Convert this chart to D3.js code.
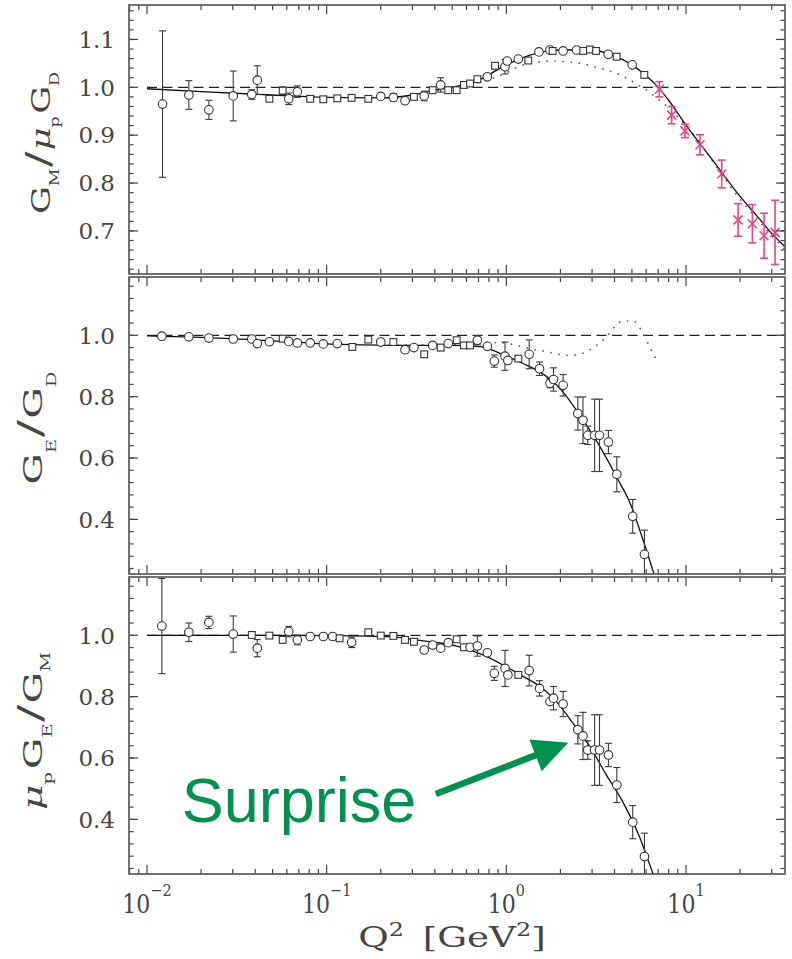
<!DOCTYPE html>
<html><head><meta charset="utf-8">
<script src="https://cdn.jsdelivr.net/npm/d3@7"></script>
<style>body{margin:0;background:#fff}svg{display:block}</style>
</head><body>
<svg id="c" width="792" height="959"></svg>
<script>
// ---------------- DATA ----------------
// Panel 1: G_M / (mu_p G_D)
const gmQ   = [0.0122,0.0171,0.0221,0.0302,0.0383,0.0411,0.048,0.0569,0.0615,0.0687,0.081,0.0958,0.1146,0.1377,0.1705,0.2,0.235,0.273,0.306,0.349,0.389,0.431,0.475,0.529,0.581,0.628,0.69,0.784,0.865,0.983,1.012,1.166,1.325,1.519,1.75,1.81,2.07,2.46,2.68,2.92,3.16,3.69,4.11,5.02,5.86];
const gmVal = [0.965,0.984,0.953,0.982,0.985,1.015,0.976,0.993,0.976,0.991,0.976,0.975,0.977,0.978,0.976,0.981,0.979,0.972,0.980,0.982,0.994,1.005,0.994,0.994,1.005,1.008,1.017,1.022,1.045,1.043,1.055,1.059,1.056,1.074,1.078,1.076,1.076,1.078,1.076,1.079,1.076,1.069,1.064,1.047,1.026];
const gmErr = [0.153,0.03,0.02,0.052,0.01,0.03,0,0.008,0.012,0.012,0,0,0,0,0,0,0.008,0,0,0.01,0,0.015,0,0,0,0,0,0,0,0.015,0,0,0,0,0,0,0,0,0,0,0,0,0,0,0];
const gmMark = ("oooooo"+"ss"+"oo"+"sssss"+"ooo"+"s"+"o"+"s"+"o"+"sssss"+"o"+"s"+"ooo"+"s"+"oo"+"s"+"oo"+"sss"+"o"+"s"+"o"+"s").split("");
const gmPinkQ   = [7.10,8.32,9.87,11.96,15.8,19.5,23.4,27.2,31.3];
const gmPinkVal = [0.996,0.942,0.909,0.880,0.819,0.723,0.715,0.690,0.697];
const gmPinkErr = [0.016,0.018,0.014,0.021,0.029,0.034,0.040,0.047,0.067];
const gmFitQ   = [0.01,0.02,0.05,0.1,0.2,0.3,0.4,0.5,0.7,1.0,1.5,2.0,3.0,4.0,5.0,6.0,7.0,8.0,10,15,20,25,30,35.56];
const gmFitVal = [0.997,0.991,0.984,0.979,0.978,0.984,0.994,1.0,1.015,1.047,1.072,1.078,1.078,1.065,1.047,1.024,1.0,0.973,0.921,0.834,0.772,0.730,0.695,0.667];
const gmDotQ   = [0.25,0.3,0.5,0.7,1.0,1.2,1.5,1.8,2.2,2.6,3.1,3.6,4.3,4.9,5.5,6.2,6.9,7.7,9,12,16,20,25,30,35.56];
const gmDotVal = [0.980,0.984,0.998,1.010,1.030,1.045,1.053,1.055,1.053,1.050,1.043,1.036,1.026,1.015,1.003,0.991,0.977,0.963,0.938,0.883,0.815,0.766,0.724,0.690,0.661];

// Panel 2: G_E / G_D
const geQ   = [0.0121,0.0171,0.0221,0.0302,0.0383,0.0411,0.048,0.0569,0.0615,0.0687,0.081,0.0958,0.1146,0.139,0.1705,0.2,0.235,0.273,0.306,0.349,0.389,0.431,0.475,0.529,0.581,0.628,0.69,0.784,0.857,0.983,1.02,1.166,1.34,1.53,1.75,1.83,2.07,2.5,2.67,2.84,3.1,3.3,3.7,4.12,5.05,5.87];
const geVal = [0.997,0.995,0.991,0.988,0.988,0.973,0.979,0.989,0.980,0.975,0.975,0.972,0.973,0.962,0.986,0.978,0.978,0.953,0.960,0.938,0.967,0.960,0.973,0.984,0.967,0.967,0.984,0.964,0.916,0.932,0.918,0.924,0.938,0.891,0.844,0.856,0.837,0.745,0.723,0.674,0.674,0.674,0.652,0.547,0.410,0.286];
const geErr = [0,0,0,0,0,0,0,0.006,0,0,0,0,0,0,0,0,0,0,0,0,0,0.01,0,0,0,0,0.015,0,0.02,0.046,0,0,0.047,0.022,0.015,0.038,0.035,0.054,0.076,0.03,0.118,0.118,0.038,0.057,0.055,0.079];
const geMark = ("ooooooo"+"s"+"ooooo"+"ss"+"o"+"s"+"oo"+"s"+"o"+"s"+"o"+"sss"+"ooooo"+"s"+"oooooooooooooo").split("");
const geFitQ   = [0.01,0.02,0.05,0.1,0.2,0.3,0.5,0.71,0.85,1.0,1.24,1.54,1.83,2.07,2.46,2.92,3.45,4.11,4.9,5.7,6.64];
const geFitVal = [0.998,0.993,0.982,0.972,0.968,0.967,0.967,0.963,0.950,0.932,0.908,0.880,0.848,0.815,0.755,0.690,0.620,0.538,0.451,0.342,0.222];
const geDotQ   = [0.25,0.5,0.7,0.92,1.07,1.24,1.44,1.65,1.88,2.15,2.5,2.84,3.25,3.6,4.0,4.45,5.2,5.7,6.4,6.88];
const geDotVal = [0.968,0.970,0.974,0.976,0.971,0.962,0.953,0.948,0.940,0.935,0.937,0.949,0.971,0.995,1.027,1.047,1.044,1.011,0.953,0.918];

// Panel 3: mu_p G_E / G_M
const rQ   = [0.0121,0.0171,0.0221,0.0302,0.0383,0.0411,0.048,0.0569,0.0615,0.0687,0.081,0.0958,0.108,0.118,0.1377,0.1705,0.2,0.235,0.273,0.306,0.349,0.389,0.431,0.475,0.529,0.581,0.628,0.69,0.784,0.857,0.983,1.02,1.166,1.34,1.53,1.75,1.83,2.07,2.5,2.67,2.84,3.1,3.3,3.7,4.12,5.05,5.87];
const rVal = [1.030,1.010,1.042,1.004,1.001,0.958,0.999,0.985,1.012,0.985,0.996,0.996,0.996,0.990,0.977,1.010,0.999,0.998,0.985,0.979,0.952,0.968,0.958,0.976,0.987,0.961,0.961,0.965,0.943,0.876,0.892,0.871,0.871,0.885,0.827,0.784,0.795,0.776,0.692,0.672,0.626,0.626,0.626,0.610,0.512,0.391,0.279];
const rErr = [0.155,0.03,0.02,0.059,0,0.028,0,0,0.017,0.016,0,0,0,0,0.017,0,0,0,0,0,0,0,0,0,0,0,0,0.033,0,0.023,0.059,0,0,0.05,0.025,0,0.038,0.041,0.046,0.077,0.03,0.115,0.115,0.038,0.057,0.054,0.076];
const rMark = ("oooo"+"s"+"o"+"ss"+"ooooo"+"s"+"o"+"sssss"+"oooo"+"ss"+"oooooo"+"s"+"oooooooooooooo").split("");
const rFitQ   = [0.01,0.05,0.1,0.23,0.345,0.53,0.74,0.96,1.23,1.54,1.9,2.35,2.92,3.6,4.44,5.5,6.55];
const rFitVal = [1.0,1.0,0.999,0.995,0.982,0.965,0.936,0.903,0.867,0.833,0.784,0.713,0.637,0.545,0.458,0.344,0.222];

// Axis ticks / labels
const xMajorTicks = [0.01,0.1,1,10];
const xTickExp = ["\u22122","\u22121","0","1"];
const yTicksTop = [0.7,0.8,0.9,1.0,1.1];
const yTicksLow = [0.4,0.6,0.8,1.0];

// annotation (in panel-3 data coordinates)
const noteText = "Surprise";
const noteTextAt = [0.0156, 0.393];
const arrowFrom = [0.405, 0.483];
const arrowTo = [2.21, 0.650];

// ---------------- CHART ----------------
const svg = d3.select("#c");
const serif = "'DejaVu Serif', serif";
const txtCol = "#454545";
const x = d3.scaleLog().domain([0.00794, 35.56]).range([129, 785]);
const L = 129, R = 785;

const panels = [
  {top:5,   bottom:274, dom:[0.610,1.172], ticks:yTicksTop, minor:0.02},
  {top:277, bottom:574, dom:[0.222,1.19],  ticks:yTicksLow, minor:0.04},
  {top:577, bottom:874, dom:[0.222,1.19],  ticks:yTicksLow, minor:0.04}
];
panels.forEach(p => p.y = d3.scaleLinear().domain(p.dom).range([p.bottom, p.top]));

const defs = svg.append("defs");
panels.forEach((p,i) => {
  defs.append("clipPath").attr("id","clip"+i).append("rect")
    .attr("x",L).attr("y",p.top).attr("width",R-L).attr("height",p.bottom-p.top);
});

const zip = (a,b) => a.map((v,i)=>[v,b[i]]);

function drawCurve(g, y, q, v, style){
  const line = d3.line().x(d=>x(d[0])).y(d=>y(d[1])).curve(d3.curveMonotoneX);
  const path = g.append("path").datum(zip(q,v)).attr("d", line).attr("fill","none");
  if (style==="solid") path.attr("stroke","#111").attr("stroke-width",1.3);
  else path.attr("stroke","#555").attr("stroke-width",1.7).attr("stroke-dasharray","0.1,8").attr("stroke-linecap","round");
}

function drawPoints(g, y, q, v, e, m){
  const data = q.map((d,i)=>({q:d, v:v[i], e:e[i], m:m[i]}));
  const eb = g.append("g").attr("stroke","#3a3a3a").attr("stroke-width",1.1).attr("fill","none");
  data.filter(d=>d.e>0).forEach(d=>{
    const cx = x(d.q), y1 = y(d.v-d.e), y2 = y(d.v+d.e);
    eb.append("line").attr("x1",cx).attr("x2",cx).attr("y1",y1).attr("y2",y2);
    eb.append("line").attr("x1",cx-3.5).attr("x2",cx+3.5).attr("y1",y1).attr("y2",y1);
    eb.append("line").attr("x1",cx-3.5).attr("x2",cx+3.5).attr("y1",y2).attr("y2",y2);
  });
  const mk = g.append("g").attr("stroke","#333").attr("stroke-width",1.1).attr("fill","#fff");
  data.forEach(d=>{
    if (d.m==="s") mk.append("rect").attr("x",x(d.q)-3.4).attr("y",y(d.v)-3.4).attr("width",6.8).attr("height",6.8);
    else mk.append("circle").attr("cx",x(d.q)).attr("cy",y(d.v)).attr("r",4.3);
  });
}

function drawPink(g, y, q, v, e){
  const col = "#e4468a";
  const pg = g.append("g").attr("stroke",col).attr("stroke-width",1.6).attr("fill","none");
  q.forEach((qq,i)=>{
    const cx = x(qq), cy = y(v[i]), y1 = y(v[i]-e[i]), y2 = y(v[i]+e[i]);
    pg.append("line").attr("x1",cx).attr("x2",cx).attr("y1",y1).attr("y2",y2);
    pg.append("line").attr("x1",cx-4).attr("x2",cx+4).attr("y1",y1).attr("y2",y1);
    pg.append("line").attr("x1",cx-4).attr("x2",cx+4).attr("y1",y2).attr("y2",y2);
    pg.append("line").attr("x1",cx-4.5).attr("x2",cx+4.5).attr("y1",cy-4.5).attr("y2",cy+4.5);
    pg.append("line").attr("x1",cx-4.5).attr("x2",cx+4.5).attr("y1",cy+4.5).attr("y2",cy-4.5);
  });
}

const xTicks = x.ticks();
const isMajor = t => Math.abs(Math.log10(t) - Math.round(Math.log10(t))) < 1e-9;

panels.forEach((p,i)=>{
  const y = p.y;
  const g = svg.append("g").attr("clip-path","url(#clip"+i+")");
  g.append("line").attr("x1",x(0.01)).attr("x2",R).attr("y1",y(1)).attr("y2",y(1))
    .attr("stroke","#222").attr("stroke-width",1.3).attr("stroke-dasharray","10,5.5");
  if (i===0){
    drawCurve(g,y,gmDotQ,gmDotVal,"dot");
    drawCurve(g,y,gmFitQ,gmFitVal,"solid");
    drawPoints(g,y,gmQ,gmVal,gmErr,gmMark);
    drawPink(g,y,gmPinkQ,gmPinkVal,gmPinkErr);
  } else if (i===1){
    drawCurve(g,y,geDotQ,geDotVal,"dot");
    drawCurve(g,y,geFitQ,geFitVal,"solid");
    drawPoints(g,y,geQ,geVal,geErr,geMark);
  } else {
    drawCurve(g,y,rFitQ,rFitVal,"solid");
    drawPoints(g,y,rQ,rVal,rErr,rMark);
  }
  const tg = svg.append("g").attr("stroke","#444").attr("stroke-width",1.2);
  xTicks.forEach(t=>{
    const len = isMajor(t) ? 9 : 5, xx = x(t);
    tg.append("line").attr("x1",xx).attr("x2",xx).attr("y1",p.bottom).attr("y2",p.bottom-len);
    tg.append("line").attr("x1",xx).attr("x2",xx).attr("y1",p.top).attr("y2",p.top+len);
  });
  const nMin = Math.ceil(p.dom[0]/p.minor - 1e-9), nMax = Math.floor(p.dom[1]/p.minor + 1e-9);
  d3.range(nMin, nMax+1).map(k=>+(k*p.minor).toFixed(3)).forEach(t=>{
    const yy = y(t);
    tg.append("line").attr("x1",L).attr("x2",L+4.5).attr("y1",yy).attr("y2",yy);
    tg.append("line").attr("x1",R).attr("x2",R-4.5).attr("y1",yy).attr("y2",yy);
  });
  p.ticks.forEach(t=>{
    const yy = y(t);
    tg.append("line").attr("x1",L).attr("x2",L+9).attr("y1",yy).attr("y2",yy);
    tg.append("line").attr("x1",R).attr("x2",R-9).attr("y1",yy).attr("y2",yy);
    svg.append("text").attr("x",115).attr("y",yy).attr("dy","0.36em")
      .attr("text-anchor","end").attr("font-family",serif).attr("font-size",23)
      .attr("fill",txtCol).text(d3.format(".1f")(t));
  });
  svg.append("rect").attr("x",L).attr("y",p.top).attr("width",R-L).attr("height",p.bottom-p.top)
    .attr("fill","none").attr("stroke","#5a5a5a").attr("stroke-width",1.7);
});

// x tick labels (bottom panel)
const pb = panels[2];
xMajorTicks.forEach((t,i)=>{
  const gg = svg.append("g").attr("transform",`translate(${x(t)},913) scale(0.85,1)`);
  const tx = gg.append("text").attr("text-anchor","middle").attr("font-family",serif)
    .attr("fill",txtCol).attr("font-size",26);
  tx.append("tspan").text("10");
  tx.append("tspan").attr("font-size",17).attr("dy",-17).text(xTickExp[i]);
});

// x axis title
(function(){
  const gg = svg.append("g");
  const tx = gg.append("text").attr("text-anchor","middle").attr("font-family",serif)
    .attr("fill",txtCol).attr("font-size",28);
  tx.append("tspan").text("Q");
  tx.append("tspan").attr("font-size",18).attr("dy",-11).text("2");
  tx.append("tspan").attr("dy",11).attr("dx",14).text("[GeV");
  tx.append("tspan").attr("font-size",18).attr("dy",-11).text("2");
  tx.append("tspan").attr("dy",11).text("]");
  const len = tx.node().getComputedTextLength();
  gg.attr("transform",`translate(452,947) scale(${169/len},1)`);
})();

// y axis titles
function yTitle(cx, cy, target, parts){
  const gg = svg.append("g");
  const tx = gg.append("text").attr("text-anchor","middle").attr("font-family",serif)
    .attr("fill",txtCol).attr("font-size",26);
  parts.forEach(pt=>{
    const s = tx.append("tspan").text(pt.t);
    if (pt.fs) s.attr("font-size",pt.fs);
    if (pt.dy) s.attr("dy",pt.dy);
    if (pt.dx) s.attr("dx",pt.dx);
    if (pt.it) s.attr("font-style","italic");
  });
  const len = tx.node().getComputedTextLength();
  gg.attr("transform",`translate(${cx},${cy}) rotate(-90) scale(${target/len},1)`);
}
yTitle(50, 143, 137, [
  {t:"G"},{t:"M",fs:13,dy:9},{t:"/",fs:34,dy:-9,dx:1},{t:"\u03bc",it:1,dx:1},
  {t:"p",fs:13,dy:9},{t:"G",dy:-9,dx:2},{t:"D",fs:13,dy:9}
]);
yTitle(42, 428, 110, [
  {t:"G"},{t:"E",fs:13,dy:14},{t:"/",fs:34,dy:-14,dx:1},{t:"G",dx:1},{t:"D",fs:13,dy:14}
]);
yTitle(42, 731, 152, [
  {t:"\u03bc",it:1},{t:"p",fs:13,dy:10},{t:"G",dy:-10,dx:2},{t:"E",fs:13,dy:10},
  {t:"/",fs:34,dy:-10,dx:1},{t:"G",dx:1},{t:"M",fs:13,dy:8}
]);

// annotation
const y3 = pb.y, green = "#00914f";
svg.append("text").attr("x",x(noteTextAt[0])).attr("y",y3(noteTextAt[1]))
  .attr("font-family","'Liberation Sans', Arial, sans-serif").attr("font-size",63)
  .attr("fill",green).text(noteText);
(function(){
  const x0 = x(arrowFrom[0]), y0 = y3(arrowFrom[1]), x1 = x(arrowTo[0]), y1 = y3(arrowTo[1]);
  const dx = x1-x0, dy = y1-y0, len = Math.hypot(dx,dy), ux = dx/len, uy = dy/len;
  const headL = 35, headW = 17;
  const bx = x1-ux*headL, by = y1-uy*headL;
  svg.append("line").attr("x1",x0).attr("y1",y0).attr("x2",bx+ux*2).attr("y2",by+uy*2)
    .attr("stroke",green).attr("stroke-width",6.5);
  svg.append("path").attr("fill",green)
    .attr("d",`M${x1},${y1}L${bx-uy*headW},${by+ux*headW}L${bx+uy*headW},${by-ux*headW}Z`);
})();
</script>
</body></html>
